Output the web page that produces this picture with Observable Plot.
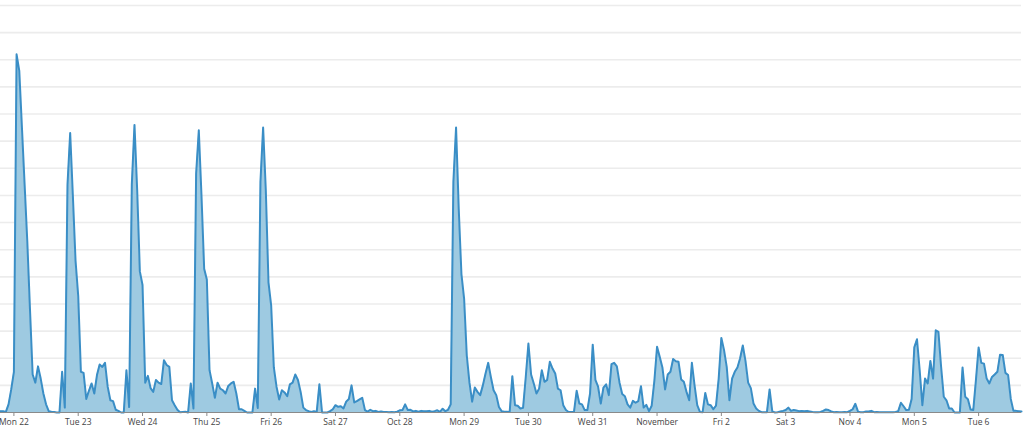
<!DOCTYPE html>
<html>
<head>
<meta charset="utf-8">
<script src="https://cdn.jsdelivr.net/npm/d3@7"></script>
<script src="https://cdn.jsdelivr.net/npm/@observablehq/plot@0.6"></script>
<style>
  html, body { margin: 0; padding: 0; background: #fff; }
  #chart svg { display: block; }
</style>
</head>
<body>
<div id="chart"></div>
<script>
// First sample: 2018-10-21 19:00 UTC, one value per hour
const startTime = Date.UTC(2018, 9, 21, 19);

const hourlyValues = [
  0.5, 0.5, 0.2, 3, 8.5, 15, 132, 126, 105, 84, 63, 38, 14, 11, 17, 12.5, 7, 3, 0.5, 0.3, 0.2, 0, 0, 15,
  1.8, 84, 103, 80, 56, 43, 15, 14.6, 5, 8, 10.7, 7, 13.8, 17.7, 16.8, 18.3, 9.5, 4.5, 4.2, 1, 0.6, 0, 0, 15.6,
  2, 84, 106, 82, 52, 47, 11, 13.5, 9, 7.6, 12, 11, 10.5, 19.3, 17.5, 16.8, 4.5, 2.7, 1, 0.1, 0.2, 0.3, 0, 10.7,
  1.5, 88, 104, 80, 53, 49, 15.6, 10.7, 5.4, 11, 8.8, 8.2, 7, 9.8, 10.7, 11.3, 7, 1.2, 1.2, 0.6, 0, 0, 0, 8.8,
  1.7, 85, 105, 82, 48, 39.5, 16.6, 9.5, 4.8, 8.2, 7.4, 6, 10.4, 11, 14, 12, 7.6, 1.8, 0.9, 0.5, 0.2, 0.5, 0.2, 10.4,
  0, 0, 0, 0.5, 1.2, 2.7, 2.1, 2.3, 1.5, 4, 5, 10, 3.7, 4.2, 4.8, 5.4, 0.9, 0.3, 1, 0.5, 0.6, 0.2, 0.4, 0.2,
  0.2, 0.1, 0.2, 0.1, 0.3, 0.8, 0.9, 3, 0.9, 1, 0.4, 0.6, 0.3, 0.6, 0.5, 0.5, 0.6, 0.3, 0.5, 0.8, 0.2, 1.4, 0.5, 1,
  3, 85, 105, 75, 51, 42, 21, 11, 4, 9.2, 7.6, 6.4, 10, 14.4, 18.3, 13, 8.2, 6.4, 2, 0.5, 0.3, 0.3, 0.2, 13.4,
  2.7, 2.5, 1.5, 1.7, 13, 25.4, 14, 10.7, 7, 8.8, 15.6, 11.3, 12, 18.7, 16.2, 14.4, 8.8, 8.2, 2.7, 0.9, 0.2, 0.2, 0.2, 8,
  3.3, 3, 0.9, 0.9, 7, 25, 12, 9.5, 3.3, 9.2, 10.4, 6.4, 17.8, 18.3, 17, 11, 6.8, 6, 3, 1.8, 4.3, 3.6, 4.2, 9.7,
  1.8, 2.8, 0.5, 2.5, 11.7, 24.2, 20.5, 16.6, 8.5, 14, 15, 19.7, 18.9, 18.7, 12.2, 11.3, 7.6, 4.5, 18.3, 10, 2.7, 0.2, 0.1, 7.2,
  3, 2.7, 1.2, 2.5, 12.5, 27.5, 23, 16.8, 4.5, 12.5, 15, 16.6, 20, 24.7, 19, 11, 9, 3.3, 1.5, 0.6, 0.1, 0.1, 0.1, 8.5,
  0.4, 0, 0.1, 0.4, 0.6, 0.9, 1.8, 0.6, 0.9, 0.7, 0.5, 0.6, 0.5, 0.6, 0.4, 0.2, 0.1, 0.1, 0.2, 0.6, 1.1, 0.9, 0.4, 0.1,
  0.2, 0.1, 0.1, 0.2, 0.1, 0.6, 1.2, 3.2, 0.3, 0.1, 0.1, 0.4, 0.4, 0.6, 0.1, 0.2, 0.1, 0.1, 0.1, 0.1, 0.1, 0.1, 0.2, 0.5,
  3.6, 2.3, 0.9, 1, 5, 24, 27, 15.6, 2.7, 12.5, 10.7, 19, 12.5, 30.3, 29.7, 16.8, 5.8, 4.5, 1.5, 1.5, 0, 0, 0, 16.6,
  5.8, 4.9, 1.1, 0.9, 12, 24, 18.3, 18, 12.5, 10.7, 13.1, 14, 15, 21.3, 21.2, 14.6, 13.8, 5, 0.6, 0.6, 0.5, 0.4
];

const tickLabels = ["Mon 22", "Tue 23", "Wed 24", "Thu 25", "Fri 26", "Sat 27", "Oct 28", "Mon 29",
  "Tue 30", "Wed 31", "November", "Fri 2", "Sat 3", "Nov 4", "Mon 5", "Tue 6"];
const firstTickDay = Date.UTC(2018, 9, 22);

const gridValues = d3.range(0, 151, 10);

// build table
const HOUR = 3600e3;
const data = hourlyValues.map((v, i) => ({date: new Date(startTime + i * HOUR), value: v}));
const tickDates = tickLabels.map((_, i) => new Date(firstTickDay + i * 24 * HOUR));
const labelOf = new Map(tickDates.map((d, i) => [+d, tickLabels[i]]));

const chart = Plot.plot({
  width: 1024,
  height: 436,
  marginTop: 5,
  marginBottom: 24,
  marginLeft: 0,
  marginRight: 3,
  style: {fontFamily: "'Open Sans', sans-serif", fontSize: "8.5px", color: "#444", background: "#fff", overflow: "visible"},
  x: {type: "utc", domain: [new Date(startTime), new Date(startTime + (hourlyValues.length - 1) * HOUR)]},
  y: {domain: [0, 150], axis: null},
  marks: [
    Plot.ruleY(gridValues.slice(1), {stroke: "#ececec", strokeWidth: 1.6}),
    Plot.areaY(data, {x: "date", y: "value", fill: "#9ecae1", fillOpacity: 1}),
    Plot.lineY(data, {x: "date", y: "value", stroke: "#3a8ec6", strokeWidth: 2, strokeLinejoin: "round"}),
    Plot.ruleY([0], {stroke: "#8a8a8a", strokeWidth: 1}),
    Plot.axisX({
      ticks: tickDates,
      tickFormat: d => labelOf.get(+d),
      tickSize: 4,
      tickPadding: 2,
      stroke: "#8a8a8a",
      fill: "#444",
      fontSize: 8.5
    })
  ]
});
document.getElementById("chart").append(chart);
</script>
</body>
</html>
